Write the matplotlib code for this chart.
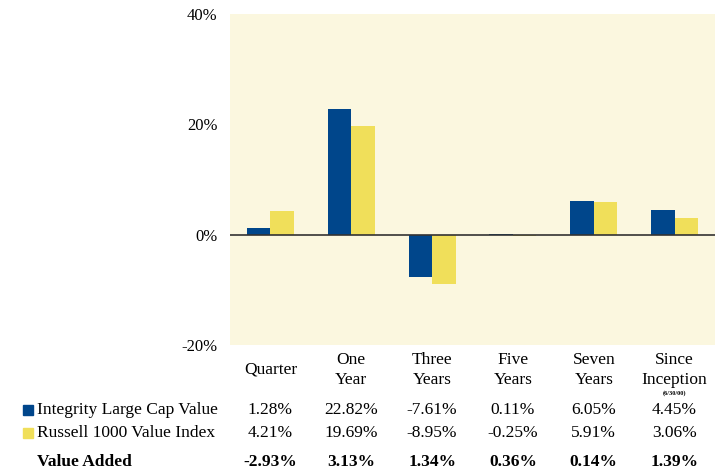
import numpy as np
import matplotlib.pyplot as plt
from matplotlib.transforms import blended_transform_factory

# Data
periods = ['Quarter', 'One\nYear', 'Three\nYears', 'Five\nYears', 'Seven\nYears', 'Since\nInception']
integrity = [1.28, 22.82, -7.61, 0.11, 6.05, 4.45]
russell = [4.21, 19.69, -8.95, -0.25, 5.91, 3.06]
value_added = [-2.93, 3.13, 1.34, 0.36, 0.14, 1.39]
yticks = [-20, 0, 20, 40]

blue = '#00468B'
yellow = '#F0DF5A'
bg = '#FBF7DF'

plt.rcParams['font.family'] = ['Liberation Serif', 'DejaVu Serif']

fig = plt.figure(figsize=(7.17, 4.73), dpi=100)
ax = fig.add_axes([230/717, 1 - 345/473, 485/717, 331/473])
ax.set_facecolor(bg)

x = np.arange(len(periods))
w = 0.29
ax.bar(x - w/2, integrity, w, color=blue, zorder=2)
ax.bar(x + w/2, russell, w, color=yellow, zorder=2)
ax.axhline(0, color='#333333', lw=1.2, zorder=3)

ax.set_xlim(-0.5, 5.5)
ax.set_ylim(-20, 40)
ax.set_yticks(yticks)
ax.set_yticklabels([f'{v}%' for v in yticks], fontsize=12)
ax.tick_params(axis='y', length=0, pad=9)
ax.set_xticks([])
for s in ax.spines.values():
    s.set_visible(False)

tr = blended_transform_factory(ax.transData, fig.transFigure)
fy = lambda py: 1 - py / 473
fs = 12.5

for i, lab in enumerate(periods):
    if '\n' in lab:
        top, bot = lab.split('\n')
        ax.text(i, fy(360), top, transform=tr, ha='center', va='center', fontsize=fs)
        ax.text(i, fy(380), bot, transform=tr, ha='center', va='center', fontsize=fs)
    else:
        ax.text(i, fy(370), lab, transform=tr, ha='center', va='center', fontsize=fs)
ax.text(5, fy(393), '(6/30/00)', transform=tr, ha='center', va='center', fontsize=4.5, fontweight='bold')

for i in range(len(periods)):
    ax.text(i, fy(410), f'{integrity[i]:.2f}%', transform=tr, ha='center', va='center', fontsize=fs)
    ax.text(i, fy(433), f'{russell[i]:.2f}%', transform=tr, ha='center', va='center', fontsize=fs)
    ax.text(i, fy(462), f'{value_added[i]:.2f}%', transform=tr, ha='center', va='center',
            fontsize=fs, fontweight='bold')

# legend-like row labels
fig.patches.append(plt.Rectangle((23/717, fy(415)), 10/717, 10/473, color=blue, transform=fig.transFigure, figure=fig))
fig.patches.append(plt.Rectangle((23/717, fy(438)), 10/717, 10/473, color=yellow, transform=fig.transFigure, figure=fig))
fig.text(37/717, fy(410), 'Integrity Large Cap Value', ha='left', va='center', fontsize=fs)
fig.text(37/717, fy(433), 'Russell 1000 Value Index', ha='left', va='center', fontsize=fs)
fig.text(37/717, fy(462), 'Value Added', ha='left', va='center', fontsize=fs, fontweight='bold')

fig.savefig('out.png', dpi=100, facecolor='white')
